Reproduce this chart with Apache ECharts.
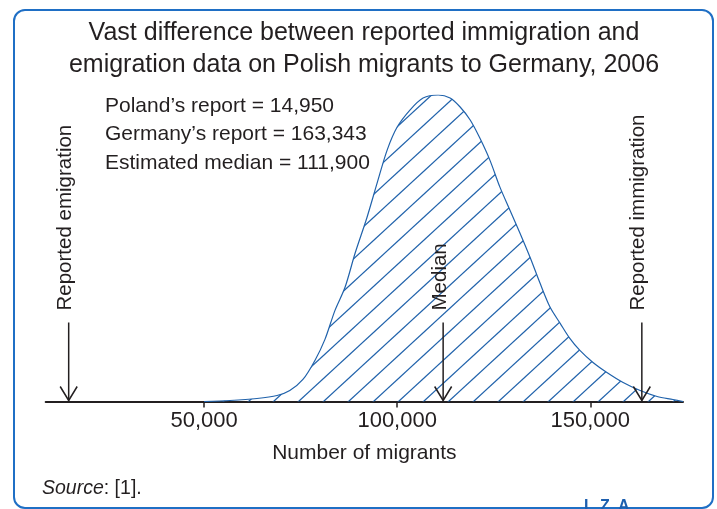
<!DOCTYPE html>
<html>
<head>
<meta charset="utf-8">
<script src="https://cdn.jsdelivr.net/npm/echarts@6/dist/echarts.min.js"></script>
<style>
  html, body { margin: 0; padding: 0; background: #ffffff; }
  #chart { width: 717px; height: 509px; }
</style>
</head>
<body>
<div id="chart"></div>
<script>
// ---- data ----
const curveX = [50000, 56700, 63700, 68900, 72200, 75600, 78700, 81300, 83900, 86500, 89100, 92200, 94800, 97400, 100000, 103300, 106700, 110600, 113700, 116300, 118900, 121400, 124000, 126600, 129200, 131800, 134400, 137000, 139600, 142200, 144700, 147300, 150700, 154300, 158500, 162900, 167300, 171400, 174000];
const curveY = [0, 1, 3, 6, 11, 22, 41, 62, 91, 114, 148, 184, 218, 251, 274, 291, 303, 306, 303, 294, 281, 263, 241, 214, 191, 168, 144, 118, 94, 78, 63, 51, 39, 29, 19, 11, 5, 2, 0];
const markerValues = [14950, 111900, 163343];
const markerLabels = ['Reported emigration', 'Median', 'Reported immigration'];
const tickValues = [50000, 100000, 150000];
const titleLines = ['Vast difference between reported immigration and', 'emigration data on Polish migrants to Germany, 2006'];
const noteLines = ['Poland\u2019s report = 14,950', 'Germany\u2019s report = 163,343', 'Estimated median = 111,900'];
const axisName = 'Number of migrants';

const FONT = 'Liberation Sans';
const TEXT = '#231f20';
const BLUE = '#2062ab';

// hatch pattern tile
const tile = document.createElement('canvas');
tile.width = 25; tile.height = 23;
(function () {
  const c = tile.getContext('2d');
  c.strokeStyle = BLUE;
  c.lineWidth = 1.2;
  const k = 23 / 25;
  [9.1 - 23, 9.1, 9.1 + 23, 9.1 + 46].forEach(function (cc) {
    c.beginPath();
    c.moveTo(-2, cc + 2 * k);
    c.lineTo(27, cc - 27 * k);
    c.stroke();
  });
})();

const curveData = curveX.map(function (x, i) { return [x, curveY[i]]; });
const markerData = markerValues.map(function (v, i) { return [v, 0, markerLabels[i]]; });

const chart = echarts.init(document.getElementById('chart'));
chart.setOption({
  animation: false,
  backgroundColor: '#ffffff',
  grid: { left: 45.7, right: 34, top: 95, bottom: 107.5, containLabel: false },
  xAxis: {
    type: 'value',
    min: 9000,
    max: 174000,
    name: axisName,
    nameLocation: 'middle',
    nameGap: 41,
    nameTextStyle: { fontFamily: FONT, fontSize: 21, color: TEXT },
    axisLine: { show: true, onZero: false, lineStyle: { color: TEXT, width: 2 } },
    axisTick: { show: true, customValues: tickValues, length: 6, inside: false, lineStyle: { color: TEXT, width: 1.5 } },
    axisLabel: {
      show: true, customValues: tickValues, margin: 8,
      fontFamily: FONT, fontSize: 22, color: TEXT,
      formatter: function (v) { return v.toLocaleString('en-US'); }
    },
    splitLine: { show: false }
  },
  yAxis: {
    type: 'value', min: 0, max: 306, show: false, splitLine: { show: false }
  },
  series: [
    {
      type: 'line',
      data: curveData,
      smooth: 0.3,
      symbol: 'none',
      lineStyle: { color: BLUE, width: 1.2 },
      areaStyle: { color: { image: tile, repeat: 'repeat' }, opacity: 1 },
      z: 2
    },
    {
      type: 'custom',
      data: markerData,
      encode: { x: 0, y: 1 },
      z: 5,
      renderItem: function (params, api) {
        const p = api.coord([api.value(0), 0]);
        const x = p[0], y = p[1];
        const top = y - 79;
        return {
          type: 'group',
          children: [
            { type: 'line', shape: { x1: x, y1: top, x2: x, y2: y - 1 }, style: { stroke: TEXT, lineWidth: 1.5 } },
            { type: 'polyline', shape: { points: [[x - 8.5, y - 15], [x, y - 1], [x + 8.5, y - 15]] }, style: { stroke: TEXT, lineWidth: 1.5, fill: null } },
            {
              type: 'text', x: x - 3, y: top - 12, rotation: Math.PI / 2,
              style: { text: api.value(2), fontFamily: FONT, fontSize: 20.5, fill: TEXT, align: 'left', verticalAlign: 'middle' }
            }
          ]
        };
      }
    }
  ],
  graphic: [
    {
      type: 'rect', silent: true,
      shape: { x: 14, y: 10, width: 699, height: 498, r: 11 },
      style: { fill: null, stroke: '#1f6fc5', lineWidth: 2 }
    },
    {
      type: 'text', x: 364, y: 17,
      style: { text: titleLines.join('\n'), fontFamily: FONT, fontSize: 25, lineHeight: 32, fill: TEXT, align: 'center', verticalAlign: 'top' }
    },
    {
      type: 'text', x: 105, y: 92,
      style: { text: noteLines.join('\n'), fontFamily: FONT, fontSize: 21, lineHeight: 28.4, fill: TEXT, align: 'left', verticalAlign: 'top' }
    },
    {
      type: 'text', x: 42, y: 489,
      style: {
        text: '{i|Source}: [1].',
        rich: { i: { fontStyle: 'italic', fontFamily: FONT, fontSize: 19.5, fill: TEXT } },
        fontFamily: FONT, fontSize: 19.5, fill: TEXT, align: 'left', verticalAlign: 'middle'
      }
    },
    { type: 'text', x: 584, y: 499, style: { text: 'I', fontFamily: FONT, fontSize: 16, fontWeight: 'bold', fill: '#1d5fae', verticalAlign: 'top' } },
    { type: 'text', x: 600, y: 499, style: { text: 'Z', fontFamily: FONT, fontSize: 16, fontWeight: 'bold', fill: '#1d5fae', verticalAlign: 'top' } },
    { type: 'text', x: 618, y: 499, style: { text: 'A', fontFamily: FONT, fontSize: 16, fontWeight: 'bold', fill: '#1d5fae', verticalAlign: 'top' } }
  ]
});
</script>
</body>
</html>
